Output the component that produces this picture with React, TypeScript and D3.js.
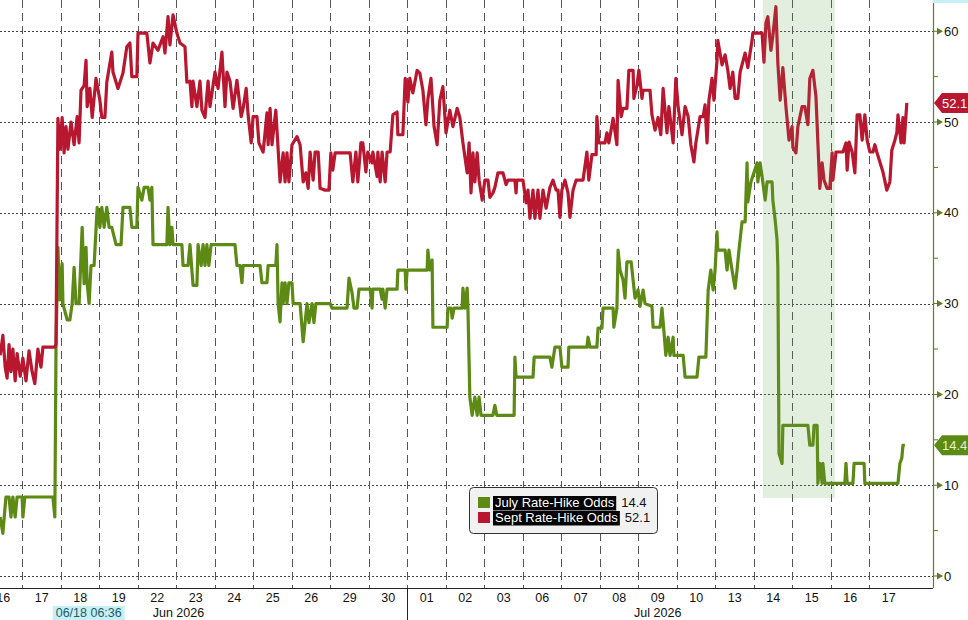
import React, { useEffect, useRef } from 'react';
import * as d3 from 'd3';

// trading days shown on the x axis (Jun 16 .. Jul 17)
const dayLabels = ['16', '17', '18', '19', '22', '23', '24', '25', '26', '29', '30', '01', '02', '03', '06', '07', '08', '09', '10', '13', '14', '15', '16', '17'];
const monthLabels = ['Jun 2026', 'Jul 2026'];
const monthLabelDays = [5.05, 17.5];
const monthStartDay = 11;
const yTicks = [0, 10, 20, 30, 40, 50, 60];
const yMinorTicks = [5, 15, 25, 35, 45, 55];
const seriesNames = ['July Rate-Hike Odds', 'Sept Rate-Hike Odds'];
const lastValues = [14.4, 52.1];
const highlightDays = [20.23, 22.1];
const highlightFloor = 8.6;
const cursorDay = 2.72;
const cursorLabel = '06/18 06:36';

// [trading day offset, odds %]
const julyOdds: [number, number][] = [
  [0.42, 6.5], [0.49, 4.7], [0.57, 8.7], [0.65, 8.7], [0.70, 6.5], [0.75, 8.7], [0.81, 6.5], [0.86, 8.7],
  [0.99, 8.7], [1.01, 6.5], [1.06, 8.7], [1.79, 8.7], [1.84, 6.5], [1.87, 25.0], [1.92, 36.2], [1.97, 30.4],
  [2.03, 34.4], [2.05, 30.0], [2.16, 28.2], [2.23, 28.2], [2.29, 30.0], [2.34, 34.0], [2.39, 30.0], [2.47, 30.0],
  [2.55, 38.4], [2.60, 32.2], [2.65, 36.2], [2.68, 32.2], [2.73, 30.0], [2.78, 34.2], [2.86, 34.2], [2.94, 40.6],
  [3.01, 38.4], [3.06, 40.6], [3.12, 38.4], [3.19, 40.6], [3.25, 38.4], [3.32, 38.4], [3.43, 36.5], [3.56, 36.5],
  [3.61, 40.6], [3.79, 40.6], [3.84, 38.4], [3.97, 38.4], [4.00, 42.8], [4.10, 41.4], [4.16, 42.8], [4.26, 42.8],
  [4.31, 41.4], [4.36, 42.8], [4.39, 36.5], [4.75, 36.5], [4.78, 40.6], [4.83, 36.5], [4.88, 38.4], [4.91, 36.5],
  [5.14, 36.5], [5.17, 34.2], [5.30, 34.2], [5.35, 36.5], [5.43, 32.0], [5.53, 32.0], [5.56, 36.5], [5.64, 34.2],
  [5.69, 36.5], [5.74, 34.2], [5.79, 36.5], [5.84, 34.2], [5.90, 36.5], [6.52, 36.5], [6.57, 34.2], [6.65, 34.2],
  [6.70, 32.3], [6.73, 34.2], [7.17, 34.2], [7.22, 32.3], [7.35, 32.3], [7.38, 34.2], [7.58, 34.2], [7.61, 36.5],
  [7.64, 30.0], [7.69, 28.0], [7.74, 32.3], [7.77, 30.0], [7.82, 32.3], [7.87, 30.0], [7.92, 32.3], [8.00, 32.3],
  [8.03, 30.0], [8.21, 30.0], [8.29, 25.8], [8.34, 27.9], [8.39, 30.0], [8.44, 27.9], [8.52, 30.0], [8.57, 27.9],
  [8.62, 30.0], [8.99, 30.0], [9.04, 29.5], [9.43, 29.5], [9.48, 32.8], [9.56, 31.2], [9.61, 29.5], [9.69, 29.5],
  [9.74, 31.6], [10.03, 31.6], [10.08, 29.5], [10.10, 31.6], [10.29, 31.6], [10.34, 30.5], [10.36, 31.6], [10.42, 29.5],
  [10.47, 31.6], [10.73, 31.6], [10.75, 33.7], [10.94, 33.7], [10.96, 31.6], [10.99, 33.7], [11.51, 33.7], [11.53, 35.9],
  [11.58, 33.7], [11.64, 34.8], [11.66, 27.4], [12.03, 27.4], [12.05, 29.5], [12.13, 29.5], [12.16, 28.4], [12.21, 29.5],
  [12.42, 29.5], [12.44, 31.7], [12.49, 29.5], [12.55, 31.7], [12.57, 29.5], [12.62, 19.7], [12.68, 17.7], [12.75, 19.7],
  [12.81, 17.7], [12.86, 19.7], [12.91, 17.7], [13.22, 17.7], [13.27, 18.8], [13.32, 17.7], [13.77, 17.7], [13.79, 24.1],
  [13.82, 21.9], [14.26, 21.9], [14.29, 24.1], [14.70, 24.1], [14.75, 23.0], [14.83, 25.2], [14.96, 25.2], [15.01, 23.0],
  [15.17, 23.0], [15.19, 25.2], [15.66, 25.2], [15.69, 26.3], [15.74, 25.2], [15.92, 25.2], [15.95, 27.3], [16.05, 27.3],
  [16.08, 29.5], [16.34, 29.5], [16.36, 27.4], [16.44, 29.5], [16.47, 35.9], [16.52, 33.7], [16.60, 32.6], [16.65, 30.6],
  [16.70, 34.6], [16.81, 34.6], [16.86, 32.6], [16.91, 30.6], [16.99, 31.5], [17.04, 29.7], [17.12, 31.5], [17.17, 30.0],
  [17.35, 29.7], [17.38, 27.4], [17.56, 27.4], [17.61, 29.5], [17.66, 27.0], [17.71, 24.3], [17.77, 26.3], [17.82, 24.3],
  [17.90, 26.3], [17.92, 24.3], [18.16, 24.3], [18.21, 21.9], [18.52, 21.9], [18.57, 24.1], [18.75, 24.1], [18.81, 31.5],
  [18.88, 33.7], [18.94, 31.5], [18.99, 33.7], [19.04, 37.9], [19.06, 35.9], [19.25, 35.9], [19.30, 33.7], [19.35, 35.9],
  [19.43, 33.7], [19.51, 31.7], [19.56, 33.7], [19.61, 35.9], [19.69, 39.0], [19.77, 39.0], [19.82, 45.5], [19.84, 41.2],
  [19.92, 43.4], [20.08, 45.5], [20.10, 43.4], [20.16, 45.5], [20.23, 43.4], [20.29, 41.4], [20.34, 43.4], [20.47, 43.4],
  [20.49, 41.4], [20.55, 39.2], [20.60, 37.0], [20.62, 34.0], [20.65, 13.5], [20.73, 12.4], [20.75, 16.6], [21.40, 16.6],
  [21.45, 14.4], [21.53, 14.4], [21.56, 16.6], [21.64, 16.6], [21.66, 10.2], [21.71, 12.4], [21.77, 10.2], [21.79, 12.4],
  [21.84, 10.2], [22.36, 10.2], [22.39, 12.4], [22.42, 10.2], [22.57, 10.2], [22.60, 12.4], [22.86, 12.4], [22.88, 10.2],
  [23.74, 10.2], [23.79, 12.4], [23.84, 13.0], [23.87, 14.4], [23.92, 14.4],
];

const septOdds: [number, number][] = [
  [0.42, 24.3], [0.49, 26.5], [0.55, 23.0], [0.60, 21.8], [0.65, 25.5], [0.70, 22.5], [0.75, 25.0], [0.81, 21.5],
  [0.86, 24.5], [0.94, 22.0], [1.01, 24.0], [1.09, 21.5], [1.17, 24.8], [1.25, 22.5], [1.32, 21.2], [1.40, 25.0],
  [1.48, 23.0], [1.53, 25.2], [1.84, 25.2], [1.87, 25.5], [1.92, 50.4], [1.97, 47.0], [2.03, 50.5], [2.08, 46.6],
  [2.13, 49.5], [2.18, 47.0], [2.26, 50.0], [2.34, 47.5], [2.42, 50.6], [2.47, 47.7], [2.52, 53.5], [2.60, 54.0],
  [2.65, 56.8], [2.68, 51.7], [2.75, 53.7], [2.81, 50.5], [2.91, 54.8], [3.01, 52.4], [3.06, 50.5], [3.14, 50.5],
  [3.19, 54.4], [3.32, 57.7], [3.35, 55.5], [3.48, 53.7], [3.61, 55.4], [3.71, 58.3], [3.79, 58.7], [3.84, 55.0],
  [3.97, 55.0], [4.00, 59.8], [4.13, 59.8], [4.23, 59.8], [4.31, 56.5], [4.39, 58.7], [4.52, 57.9], [4.65, 59.4],
  [4.70, 57.6], [4.78, 61.6], [4.83, 58.5], [4.91, 61.8], [5.01, 59.8], [5.09, 58.7], [5.22, 58.3], [5.27, 54.4],
  [5.35, 54.5], [5.40, 51.7], [5.43, 54.5], [5.53, 51.7], [5.61, 54.5], [5.66, 51.3], [5.74, 50.5], [5.82, 54.5],
  [5.87, 51.7], [6.00, 55.5], [6.08, 53.7], [6.18, 57.7], [6.26, 51.7], [6.31, 55.5], [6.39, 54.5], [6.47, 51.5],
  [6.57, 54.6], [6.68, 50.6], [6.73, 51.5], [6.81, 53.7], [6.86, 50.8], [6.94, 47.7], [6.99, 50.6], [7.09, 50.6],
  [7.14, 47.7], [7.25, 46.7], [7.30, 48.8], [7.35, 51.0], [7.38, 47.5], [7.43, 51.5], [7.48, 47.5], [7.58, 51.3],
  [7.69, 43.4], [7.77, 46.6], [7.82, 43.4], [7.87, 46.6], [7.92, 43.4], [8.00, 47.5], [8.13, 48.4], [8.21, 47.5],
  [8.29, 43.4], [8.36, 44.4], [8.42, 42.7], [8.47, 46.7], [8.55, 43.6], [8.60, 46.7], [8.68, 46.7], [8.73, 42.7],
  [8.86, 42.5], [8.96, 42.5], [9.01, 46.6], [9.06, 44.7], [9.12, 46.6], [9.51, 46.6], [9.58, 43.4], [9.66, 46.7],
  [9.71, 43.4], [9.79, 47.7], [9.84, 47.7], [9.92, 44.5], [9.97, 46.7], [10.08, 45.5], [10.10, 46.7], [10.21, 44.0],
  [10.23, 46.7], [10.29, 43.4], [10.34, 46.7], [10.42, 43.4], [10.47, 46.7], [10.55, 46.7], [10.62, 50.8], [10.73, 51.1],
  [10.75, 48.6], [10.88, 48.6], [10.94, 54.8], [11.01, 52.2], [11.06, 54.8], [11.14, 53.2], [11.25, 55.7], [11.32, 55.4],
  [11.40, 53.5], [11.48, 49.7], [11.53, 52.5], [11.61, 54.8], [11.69, 49.5], [11.77, 47.5], [11.84, 52.4], [11.92, 53.9],
  [12.00, 48.8], [12.10, 51.3], [12.18, 49.5], [12.29, 51.5], [12.36, 50.5], [12.44, 47.7], [12.55, 44.4], [12.60, 47.7],
  [12.65, 42.2], [12.70, 46.6], [12.75, 43.4], [12.81, 46.6], [12.86, 43.6], [12.94, 41.4], [13.01, 43.6], [13.09, 43.6],
  [13.14, 41.7], [13.22, 42.2], [13.27, 42.8], [13.35, 44.4], [13.48, 44.4], [13.56, 43.1], [13.61, 43.6], [13.79, 43.6],
  [13.82, 42.2], [13.84, 43.6], [14.00, 43.6], [14.08, 41.1], [14.13, 42.5], [14.18, 39.4], [14.26, 42.5], [14.31, 39.4],
  [14.39, 42.5], [14.44, 39.4], [14.52, 42.5], [14.60, 40.5], [14.70, 42.8], [14.78, 43.6], [14.86, 42.5], [14.91, 42.5],
  [14.96, 39.5], [15.01, 42.5], [15.09, 43.6], [15.17, 42.2], [15.22, 39.5], [15.30, 42.5], [15.38, 43.6], [15.56, 43.6],
  [15.66, 46.7], [15.71, 43.6], [15.79, 46.4], [15.90, 46.4], [15.92, 50.6], [15.97, 47.7], [16.13, 47.7], [16.18, 48.8],
  [16.23, 47.7], [16.34, 50.4], [16.44, 47.5], [16.47, 54.6], [16.55, 50.6], [16.60, 51.5], [16.70, 51.5], [16.75, 55.7],
  [16.86, 55.7], [16.88, 52.6], [16.96, 54.0], [17.01, 55.7], [17.09, 52.6], [17.12, 53.5], [17.30, 53.5], [17.35, 50.8],
  [17.43, 49.1], [17.51, 50.5], [17.58, 48.6], [17.64, 53.7], [17.74, 48.8], [17.79, 51.7], [17.90, 47.7], [17.97, 54.8],
  [18.03, 51.7], [18.13, 48.6], [18.21, 51.7], [18.29, 50.6], [18.36, 47.5], [18.44, 45.6], [18.49, 47.7], [18.60, 50.6],
  [18.68, 50.6], [18.73, 51.9], [18.78, 47.7], [18.83, 52.4], [18.91, 54.8], [18.96, 52.4], [19.04, 56.8], [19.06, 59.0],
  [19.17, 56.3], [19.25, 57.4], [19.32, 55.7], [19.38, 53.7], [19.45, 55.5], [19.51, 52.6], [19.58, 52.6], [19.64, 55.5],
  [19.77, 57.6], [19.84, 56.0], [19.95, 59.0], [19.97, 59.8], [20.10, 59.8], [20.21, 59.8], [20.26, 56.6], [20.31, 60.9],
  [20.36, 61.6], [20.44, 57.9], [20.49, 59.5], [20.57, 62.7], [20.62, 56.5], [20.68, 52.4], [20.75, 56.0], [20.83, 51.7],
  [20.91, 48.0], [20.99, 49.5], [21.01, 47.2], [21.09, 46.6], [21.14, 49.5], [21.25, 51.7], [21.32, 51.7], [21.40, 49.7],
  [21.45, 54.8], [21.53, 55.7], [21.61, 52.8], [21.66, 47.7], [21.71, 42.7], [21.77, 45.5], [21.82, 43.6], [21.90, 42.7],
  [21.97, 42.7], [22.03, 46.6], [22.05, 43.6], [22.13, 46.7], [22.31, 46.7], [22.39, 47.7], [22.42, 44.7], [22.47, 47.8],
  [22.55, 46.7], [22.62, 44.4], [22.68, 50.8], [22.75, 50.8], [22.81, 48.0], [22.88, 50.8], [22.94, 48.0], [23.01, 46.7],
  [23.09, 46.7], [23.14, 47.5], [23.19, 46.7], [23.35, 44.5], [23.45, 42.5], [23.53, 43.4], [23.58, 46.9], [23.66, 48.0],
  [23.71, 48.8], [23.74, 50.8], [23.82, 47.7], [23.87, 50.5], [23.90, 47.7], [23.97, 52.1],
];

const GREEN = '#5c8a14';
const RED = '#b8172f';
const AXIS_GREEN = '#5f7d22';
const FONT = '"Liberation Sans", Arial, sans-serif';
const TICK_SIZE = 12.5;

const RateHikeChart: React.FC = () => {
  const svgRef = useRef<SVGSVGElement>(null);

  useEffect(() => {
    if (!svgRef.current) return;
    document.body.style.margin = '0';

    const width = 968;
    const height = 620;
    const plotRight = 933;
    const plotBottom = 588;

    const svg = d3.select(svgRef.current)
      .attr('width', width)
      .attr('height', height)
      .html('');

    svg.append('rect').attr('width', width).attr('height', height).attr('fill', '#fff');

    const x = d3.scaleLinear().domain([0.4156, 24.65]).range([0, plotRight]);
    const y = d3.scaleLinear().domain([-1.32, 63.44]).range([plotBottom, 0]);

    svg.append('defs').append('clipPath').attr('id', 'plot-clip')
      .append('rect').attr('width', plotRight).attr('height', plotBottom);

    const plot = svg.append('g').attr('clip-path', 'url(#plot-clip)');

    // highlighted window, drawn as a tinted band
    plot.append('rect')
      .attr('x', x(highlightDays[0]))
      .attr('width', x(highlightDays[1]) - x(highlightDays[0]))
      .attr('y', 0)
      .attr('height', y(highlightFloor))
      .attr('fill', '#eef8eb');

    // horizontal dotted grid
    plot.selectAll('line.hgrid')
      .data(yTicks)
      .join('line')
      .attr('class', 'hgrid')
      .attr('x1', 0).attr('x2', plotRight)
      .attr('y1', d => Math.round(y(d)) + 0.5).attr('y2', d => Math.round(y(d)) + 0.5)
      .attr('stroke', '#444').attr('stroke-width', 1)
      .attr('stroke-dasharray', '2,2');

    // vertical dashed grid at day boundaries
    const boundaries = d3.range(1, dayLabels.length);
    plot.selectAll('line.vgrid')
      .data(boundaries)
      .join('line')
      .attr('class', 'vgrid')
      .attr('x1', d => Math.round(x(d)) + 0.5).attr('x2', d => Math.round(x(d)) + 0.5)
      .attr('y1', 0).attr('y2', plotBottom)
      .attr('stroke', '#555').attr('stroke-width', 1)
      .attr('stroke-dasharray', '8,5');

    const line = d3.line<[number, number]>()
      .x(d => x(d[0]))
      .y(d => y(d[1]));

    plot.append('path')
      .datum(julyOdds)
      .attr('d', line)
      .attr('fill', 'none')
      .attr('stroke', GREEN)
      .attr('stroke-width', 3.2)
      .attr('stroke-linejoin', 'round');

    plot.append('path')
      .datum(septOdds)
      .attr('d', line)
      .attr('fill', 'none')
      .attr('stroke', RED)
      .attr('stroke-width', 3.2)
      .attr('stroke-linejoin', 'round');

    // faint green veil over the lines inside the window
    plot.append('rect')
      .attr('x', x(highlightDays[0]))
      .attr('width', x(highlightDays[1]) - x(highlightDays[0]))
      .attr('y', 0)
      .attr('height', y(highlightFloor))
      .attr('fill', '#7fa86a')
      .attr('opacity', 0.1);

    // bottom axis
    svg.append('line')
      .attr('x1', 0).attr('x2', plotRight)
      .attr('y1', plotBottom + 0.5).attr('y2', plotBottom + 0.5)
      .attr('stroke', '#222');

    svg.append('line')
      .attr('x1', Math.round(x(monthStartDay)) + 0.5).attr('x2', Math.round(x(monthStartDay)) + 0.5)
      .attr('y1', plotBottom).attr('y2', height)
      .attr('stroke', '#222');

    svg.selectAll('text.day')
      .data(dayLabels)
      .join('text')
      .attr('class', 'day')
      .attr('x', (_, i) => x(i + 0.5))
      .attr('y', 602)
      .attr('text-anchor', 'middle')
      .attr('font-family', FONT)
      .attr('font-size', TICK_SIZE)
      .attr('fill', '#111')
      .text(d => d);

    svg.selectAll('text.month')
      .data(monthLabels)
      .join('text')
      .attr('class', 'month')
      .attr('x', (_, i) => x(monthLabelDays[i]))
      .attr('y', 617)
      .attr('text-anchor', 'middle')
      .attr('font-family', FONT)
      .attr('font-size', TICK_SIZE)
      .attr('fill', '#111')
      .text(d => d);

    const cursor = svg.append('g');
    const cursorText = cursor.append('text')
      .attr('x', x(cursorDay))
      .attr('y', 617)
      .attr('text-anchor', 'middle')
      .attr('font-family', FONT)
      .attr('font-size', TICK_SIZE)
      .attr('fill', '#1d5b66')
      .text(cursorLabel);
    const cb = (cursorText.node() as SVGTextElement).getBBox();
    cursor.insert('rect', 'text')
      .attr('x', cb.x - 3).attr('y', 606)
      .attr('width', cb.width + 6).attr('height', 14)
      .attr('fill', '#c6f0f6');

    // right axis
    svg.append('line')
      .attr('x1', plotRight + 0.5).attr('x2', plotRight + 0.5)
      .attr('y1', 0).attr('y2', plotBottom)
      .attr('stroke', AXIS_GREEN).attr('stroke-width', 1.2);

    svg.append('rect')
      .attr('x', plotRight).attr('y', 0).attr('width', width - plotRight).attr('height', 3)
      .attr('fill', '#c6f0f6');

    svg.selectAll('line.minor')
      .data(yMinorTicks)
      .join('line')
      .attr('class', 'minor')
      .attr('x1', plotRight).attr('x2', plotRight + 5)
      .attr('y1', d => y(d)).attr('y2', d => y(d))
      .attr('stroke', AXIS_GREEN);

    svg.selectAll('path.major')
      .data(yTicks)
      .join('path')
      .attr('class', 'major')
      .attr('d', d => `M${plotRight},${y(d) - 0.5}L${plotRight + 4},${y(d) - 0.5}L${plotRight + 4},${y(d) - 3.5}L${plotRight + 10},${y(d)}L${plotRight + 4},${y(d) + 3.5}L${plotRight + 4},${y(d) + 0.5}L${plotRight},${y(d) + 0.5}Z`)
      .attr('fill', AXIS_GREEN);

    svg.selectAll('text.ytick')
      .data(yTicks)
      .join('text')
      .attr('class', 'ytick')
      .attr('x', plotRight + 11)
      .attr('y', d => y(d))
      .attr('dy', '0.35em')
      .attr('font-family', FONT)
      .attr('font-size', 13)
      .attr('fill', '#111')
      .text(d => d);

    // last value badges
    const badgeColors = [GREEN, RED];
    const badgeText = ['#e6f0cf', '#ffffff'];
    lastValues.forEach((v, i) => {
      const cy = y(v);
      const g = svg.append('g');
      g.append('path')
        .attr('d', `M${plotRight + 1},${cy}L${plotRight + 9},${cy - 10}L${width},${cy - 10}L${width},${cy + 10}L${plotRight + 9},${cy + 10}Z`)
        .attr('fill', badgeColors[i]);
      g.append('text')
        .attr('x', plotRight + 9)
        .attr('y', cy)
        .attr('dy', '0.36em')
        .attr('font-family', FONT)
        .attr('font-size', 13)
        .attr('fill', badgeText[i])
        .text(v.toFixed(1));
    });

    // legend
    const legend = svg.append('g').attr('transform', 'translate(469,487)');
    legend.append('rect')
      .attr('x', 0.5).attr('y', 0.5)
      .attr('width', 188).attr('height', 46)
      .attr('rx', 4)
      .attr('fill', '#f1f1f1')
      .attr('stroke', '#333');

    seriesNames.forEach((name, i) => {
      const ry = 10 + i * 15;
      legend.append('rect')
        .attr('x', 9).attr('y', ry).attr('width', 12).attr('height', 11)
        .attr('fill', badgeColors[i]);
      const bg = legend.append('rect').attr('fill', '#000');
      const t = legend.append('text')
        .attr('x', 26)
        .attr('y', ry + 10)
        .attr('font-family', FONT)
        .attr('font-size', 13)
        .attr('fill', '#fff')
        .text(name);
      const w = (t.node() as SVGTextElement).getComputedTextLength();
      bg.attr('x', 24).attr('y', ry - 1).attr('width', w + 4).attr('height', 14.5);
      legend.append('text')
        .attr('x', 26 + w + 7)
        .attr('y', ry + 10)
        .attr('font-family', FONT)
        .attr('font-size', 13)
        .attr('fill', '#111')
        .text(lastValues[i].toFixed(1));
    });
  }, []);

  return (
    <svg ref={svgRef} style={{ position: 'absolute', left: 0, top: 0, display: 'block' }}></svg>
  );
};

export default function App() {
  return <RateHikeChart />;
}
